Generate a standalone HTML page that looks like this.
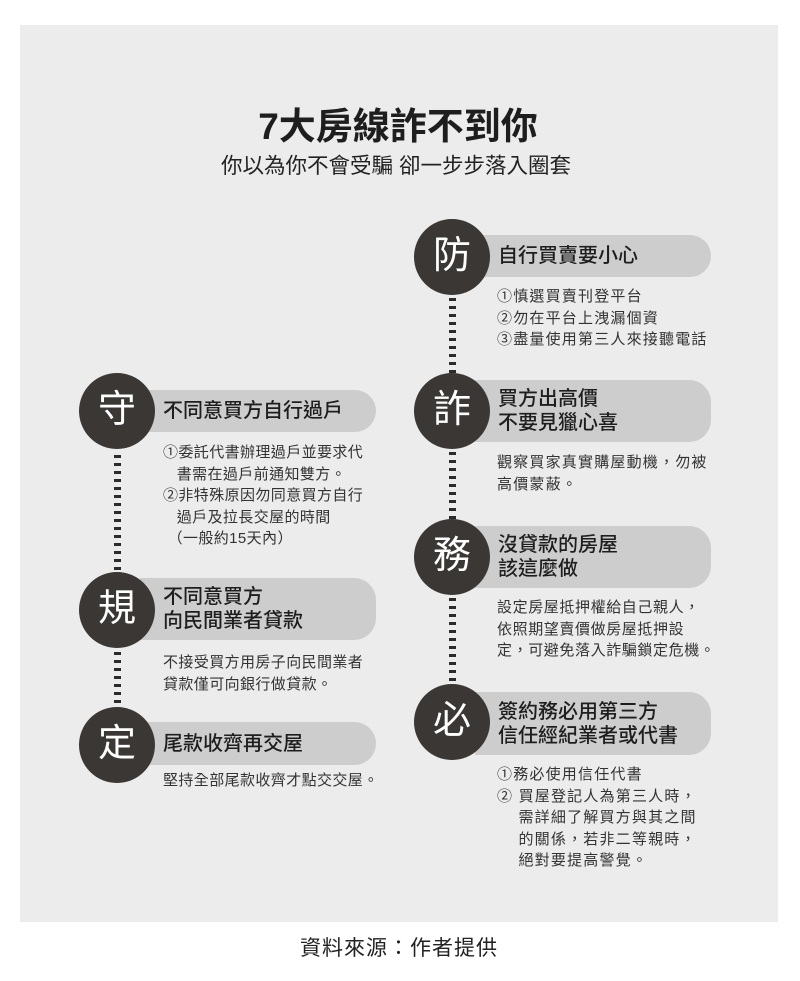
<!DOCTYPE html>
<html><head><meta charset="utf-8"><style>
body{margin:0;width:800px;height:981px;background:#fff;position:relative;font-family:"Liberation Sans","Noto Sans CJK TC",sans-serif;color:#2b2b2b;overflow:hidden}
.panel{position:absolute;left:20px;top:25px;width:758px;height:897px;background:#ececec}
.a{position:absolute}
.c{position:absolute;width:76px;height:76px;border-radius:50%;background:#3b3735;color:#fff;font-size:38px;line-height:74px;text-align:center;z-index:2}
.p{position:absolute;background:#cdcdcd;border-radius:0 22px 22px 0;font-size:20px;font-weight:500;color:#1e1e1e;box-sizing:border-box;padding-left:23px;display:flex;align-items:center;line-height:24px}
.t{position:absolute;font-size:15px;line-height:21.5px;color:#333;letter-spacing:1.2px}
.l{letter-spacing:0.4px}
.d{position:absolute;width:7px;background:repeating-linear-gradient(#2b2b2b 0 3px,transparent 3px 8px)}
</style></head><body>
<div class="panel"></div>
<div class="a" style="left:0;width:796px;top:96px;text-align:center;font-size:37px;font-weight:bold;color:#1e1e1e">7大房線詐不到你</div>
<div class="a" style="left:0;width:792px;top:149px;text-align:center;font-size:21.5px;color:#222">你以為你不會受騙 卻一步步落入圈套</div>

<!-- left -->
<div class="d" style="left:114px;top:455px;height:116px"></div>
<div class="d" style="left:114px;top:652px;height:56px"></div>
<div class="p" style="left:140px;top:390px;width:236px;height:42px">不同意買方自行過戶</div>
<div class="c" style="left:79px;top:373px">守</div>
<div class="t l" style="left:163px;top:442px">①委託代書辦理過戶並要求代<br>&nbsp;&nbsp;&nbsp;書需在過戶前通知雙方。<br>②非特殊原因勿同意買方自行<br>&nbsp;&nbsp;&nbsp;過戶及拉長交屋的時間<br>&nbsp;（一般約15天內）</div>

<div class="p" style="left:140px;top:578px;width:236px;height:62px">不同意買方<br>向民間業者貸款</div>
<div class="c" style="left:79px;top:572px">規</div>
<div class="t l" style="left:163px;top:652px">不接受買方用房子向民間業者<br>貸款僅可向銀行做貸款。</div>

<div class="p" style="left:140px;top:722px;width:236px;height:43px">尾款收齊再交屋</div>
<div class="c" style="left:79px;top:707px">定</div>
<div class="t l" style="left:163px;top:770px">堅持全部尾款收齊才點交交屋。</div>

<!-- right -->
<div class="d" style="left:449px;top:298px;height:76px"></div>
<div class="d" style="left:449px;top:452px;height:68px"></div>
<div class="d" style="left:449px;top:598px;height:86px"></div>
<div class="p" style="left:475px;top:235px;width:236px;height:42px">自行買賣要小心</div>
<div class="c" style="left:414px;top:219px">防</div>
<div class="t" style="left:497px;top:286px">①慎選買賣刊登平台<br>②勿在平台上洩漏個資<br>③盡量使用第三人來接聽電話</div>

<div class="p" style="left:475px;top:380px;width:236px;height:62px">買方出高價<br>不要見獵心喜</div>
<div class="c" style="left:414px;top:373px">詐</div>
<div class="t" style="left:497px;top:452px">觀察買家真實購屋動機，勿被<br>高價蒙蔽。</div>

<div class="p" style="left:475px;top:526px;width:236px;height:62px">沒貸款的房屋<br>該這麼做</div>
<div class="c" style="left:414px;top:519px">務</div>
<div class="t" style="left:497px;top:597px;letter-spacing:0.6px">設定房屋抵押權給自己親人，<br>依照期望賣價做房屋抵押設<br>定，可避免落入詐騙鎖定危機。</div>

<div class="p" style="left:475px;top:692px;width:236px;height:63px">簽約務必用第三方<br>信任經紀業者或代書</div>
<div class="c" style="left:414px;top:684px">必</div>
<div class="t" style="left:497px;top:764px">①務必使用信任代書<br>② 買屋登記人為第三人時，<br>&nbsp;&nbsp;&nbsp;&nbsp;需詳細了解買方與其之間<br>&nbsp;&nbsp;&nbsp;&nbsp;的關係，若非二等親時，<br>&nbsp;&nbsp;&nbsp;&nbsp;絕對要提高警覺。</div>

<div class="a" style="left:0;width:798px;top:932px;text-align:center;font-size:21px;color:#222;letter-spacing:1px">資料來源：作者提供</div>
</body></html>
